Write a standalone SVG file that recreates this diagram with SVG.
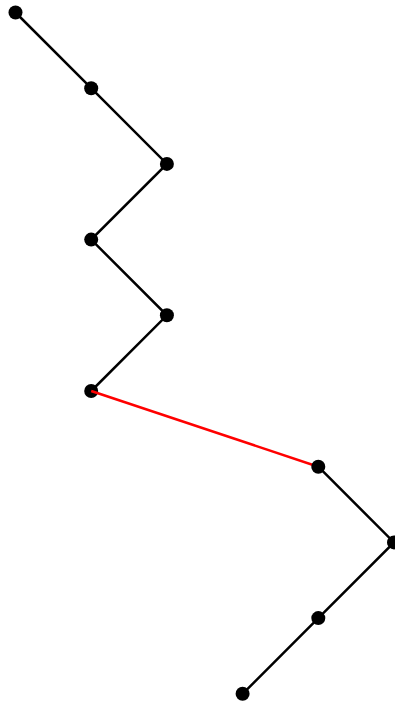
<svg xmlns="http://www.w3.org/2000/svg" width="395" height="704" viewBox="0 0 395 704">
<style>
.e{stroke:#000;stroke-width:2.5;fill:none}
.r{stroke:#f00;stroke-width:2.5;fill:none}
.n{fill:#000}
</style>
<rect width="395" height="704" fill="#fff"/>
<g id="connectors">
<polyline class="e" points="15.5,12.5 91.2,88.2 166.9,163.9 91.2,239.6 166.9,315.3 91.2,391"/>
<polyline class="e" points="318.3,466.7 394,542.4 318.3,618.1 242.6,693.8"/>
</g>
<g id="n0"><circle class="n" cx="15.5" cy="12.5" r="7"/></g>
<g id="n1"><circle class="n" cx="91.2" cy="88.2" r="7"/></g>
<g id="n2"><circle class="n" cx="166.9" cy="163.9" r="7"/></g>
<g id="n3"><circle class="n" cx="91.2" cy="239.6" r="7"/></g>
<g id="n4"><circle class="n" cx="166.9" cy="315.3" r="7"/></g>
<g id="n5"><circle class="n" cx="91.2" cy="391" r="7"/></g>
<g id="red-connector"><line class="r" x1="91.2" y1="391" x2="318.3" y2="466.7"/></g>
<g id="n6"><circle class="n" cx="318.3" cy="466.7" r="7"/></g>
<g id="n7"><circle class="n" cx="394" cy="542.4" r="7"/></g>
<g id="n8"><circle class="n" cx="318.3" cy="618.1" r="7"/></g>
<g id="n9"><circle class="n" cx="242.6" cy="693.8" r="7"/></g>
</svg>
